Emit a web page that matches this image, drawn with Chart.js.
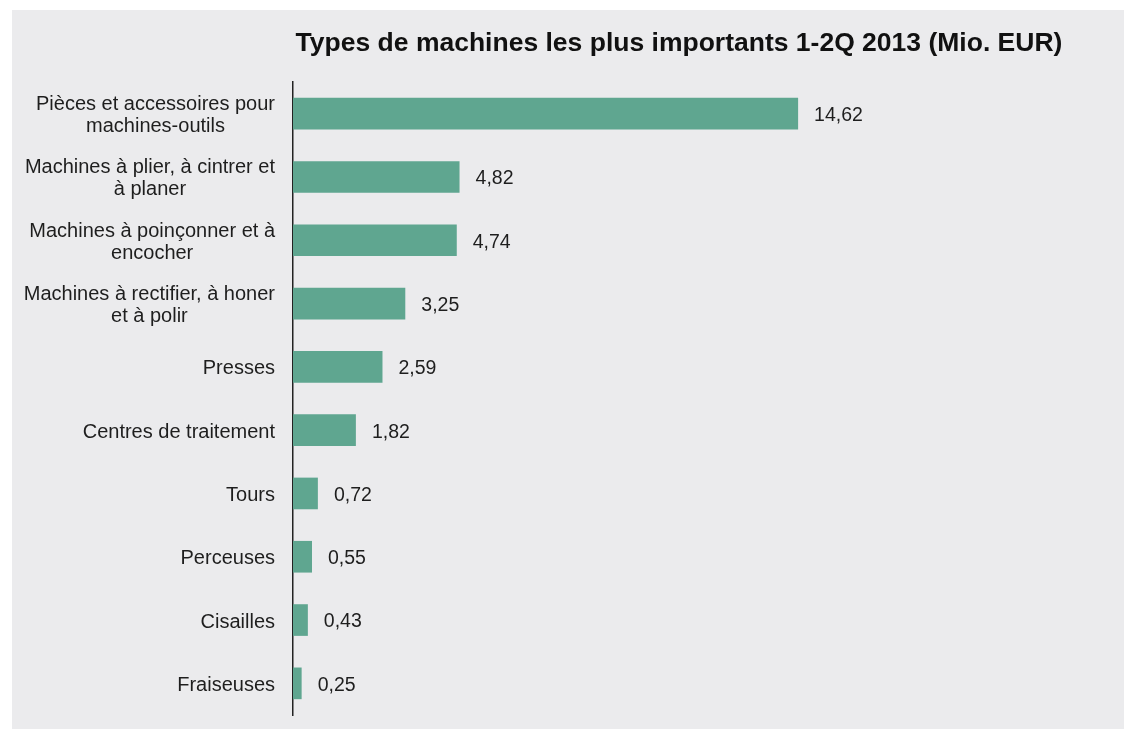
<!DOCTYPE html>
<html>
<head>
<meta charset="utf-8">
<script src="https://cdn.jsdelivr.net/npm/chart.js@4"></script>
<style>
  html, body { margin: 0; padding: 0; background: #ffffff; }
  #wrap { width: 1124px; height: 729px; position: relative; }
</style>
</head>
<body>
<div id="wrap"><canvas id="myChart"></canvas></div>
<script>
const titleText = 'Types de machines les plus importants 1-2Q 2013 (Mio. EUR)';

// categories (multi-line labels as in the picture)
const categories = [
    ['Pièces et accessoires pour', 'machines-outils'],
    ['Machines à plier, à cintrer et', 'à planer'],
    ['Machines à poinçonner et à', 'encocher'],
    ['Machines à rectifier, à honer', 'et à polir'],
    ['Presses'],
    ['Centres de traitement'],
    ['Tours'],
    ['Perceuses'],
    ['Cisailles'],
    ['Fraiseuses']
];

const values = [14.62, 4.82, 4.74, 3.25, 2.59, 1.82, 0.72, 0.55, 0.43, 0.25];

const FONT = '20px "Liberation Sans", Arial, sans-serif';
const VFONT = '19.5px "Liberation Sans", Arial, sans-serif';
const TEXT = '#1e1e1e';

// gray panel behind the chart
const panelBg = {
    id: 'panelBg',
    beforeDraw(chart) {
        const ctx = chart.ctx;
        ctx.save();
        ctx.fillStyle = '#ebebed';
        ctx.fillRect(12, 10, chart.width - 12, chart.height - 10);
        ctx.restore();
    }
};

// title centred on the plot like the excel one
const titlePlug = {
    id: 'titlePlug',
    afterDraw(chart) {
        const ctx = chart.ctx;
        ctx.save();
        ctx.font = 'bold 26.5px "Liberation Sans", Arial, sans-serif';
        ctx.fillStyle = '#111';
        ctx.textAlign = 'center';
        ctx.textBaseline = 'alphabetic';
        ctx.fillText(titleText, 679, 51);
        ctx.restore();
    }
};

// category labels: block right aligned, lines centred in the block
const catLabels = {
    id: 'catLabels',
    afterDraw(chart) {
        const ctx = chart.ctx;
        const ys = chart.scales.y;
        const right = chart.chartArea.left - 18;
        ctx.save();
        ctx.font = FONT;
        ctx.fillStyle = TEXT;
        ctx.textAlign = 'center';
        ctx.textBaseline = 'middle';
        categories.forEach((lines, i) => {
            const cy = ys.getPixelForValue(i) + 2;
            let w = 0;
            lines.forEach(l => { w = Math.max(w, ctx.measureText(l).width); });
            const cx = right - w / 2;
            const lh = 22;
            const y0 = cy - (lines.length - 1) * lh / 2;
            lines.forEach((l, k) => ctx.fillText(l, cx, y0 + k * lh));
        });
        ctx.restore();
    }
};

// values next to the bars
const valueLabels = {
    id: 'valueLabels',
    afterDatasetsDraw(chart) {
        const ctx = chart.ctx;
        const meta = chart.getDatasetMeta(0);
        ctx.save();
        ctx.font = VFONT;
        ctx.fillStyle = TEXT;
        ctx.textAlign = 'left';
        ctx.textBaseline = 'middle';
        meta.data.forEach((bar, i) => {
            ctx.fillText(values[i].toFixed(2).replace('.', ','), bar.x + 16, bar.y + 2);
        });
        ctx.restore();
    }
};

const config = {
    type: 'bar',
    data: {
        labels: categories.map(c => c.join(' ')),
        datasets: [{
            data: values,
            backgroundColor: '#5fa690',
            barPercentage: 0.5,
            categoryPercentage: 1.0
        }]
    },
    options: {
        indexAxis: 'y',
        responsive: true,
        maintainAspectRatio: false,
        animation: false,
        layout: { padding: { top: 82, bottom: 14, right: 140, left: 0 } },
        plugins: {
            legend: { display: false },
            title: { display: false },
            tooltip: { enabled: false }
        },
        scales: {
            x: {
                min: 0,
                max: 20,
                display: false
            },
            y: {
                grid: { display: false, drawTicks: false },
                border: { display: true, color: '#222', width: 1.5 },
                ticks: { display: false },
                afterFit(scale) { scale.width = 293; }
            }
        }
    },
    plugins: [panelBg, titlePlug, catLabels, valueLabels]
};

new Chart(document.getElementById('myChart'), config);
</script>
</body>
</html>
